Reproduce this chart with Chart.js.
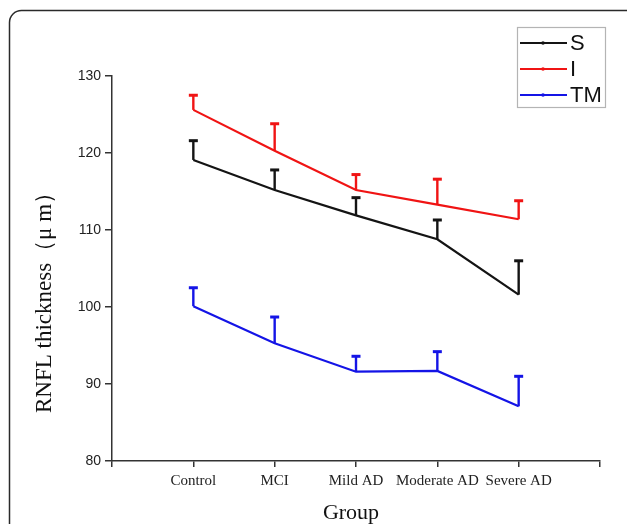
<!DOCTYPE html>
<html>
<head>
<meta charset="utf-8">
<script src="https://cdn.jsdelivr.net/npm/chart.js@4.4.0/dist/chart.umd.min.js"></script>
<style>
  html, body { margin: 0; padding: 0; background: #fff; }
  canvas { display: block; }
</style>
</head>
<body>
<canvas id="chart" width="627" height="524"></canvas>
<script>
// data
const groups = ['Control', 'MCI', 'Mild AD', 'Moderate AD', 'Severe AD'];
const sMean = [119.1, 115.2, 111.9, 108.8, 101.6];
const sSD = [2.5, 2.6, 2.3, 2.5, 4.4];
const iMean = [125.6, 120.3, 115.2, 113.3, 111.4];
const iSD = [1.9, 3.5, 2.0, 3.3, 2.4];
const tmMean = [100.1, 95.3, 91.6, 91.7, 87.1];
const tmSD = [2.4, 3.4, 2.0, 2.5, 3.9];
const yTicks = [80, 90, 100, 110, 120, 130];

const seriesNames = ['S', 'I', 'TM'];
const seriesColors = ['#141414', '#f01414', '#1414e6'];

function toPoints(arr) {
  return arr.map((v, i) => ({ x: i + 1, y: v }));
}

// frame, error bars, legend and axis titles
const extras = {
  id: 'extras',
  beforeDraw(chart) {
    const ctx = chart.ctx;
    ctx.save();
    ctx.fillStyle = '#fff';
    ctx.fillRect(0, 0, chart.width, chart.height);
    // rounded frame around the figure
    ctx.strokeStyle = '#2a2a2a';
    ctx.lineWidth = 1.5;
    const x0 = 9.5, y0 = 10.5, r = 12;
    ctx.beginPath();
    ctx.moveTo(x0, chart.height + 5);
    ctx.lineTo(x0, y0 + r);
    ctx.arcTo(x0, y0, x0 + r, y0, r);
    ctx.lineTo(chart.width + 5, y0);
    ctx.stroke();
    ctx.restore();
  },
  afterDatasetsDraw(chart) {
    const ctx = chart.ctx;
    const xs = chart.scales.x, ys = chart.scales.y;
    ctx.save();
    chart.data.datasets.forEach(ds => {
      ctx.strokeStyle = ds.borderColor;
      ds.data.forEach((p, i) => {
        const px = xs.getPixelForValue(p.x);
        const py = ys.getPixelForValue(p.y);
        const top = ys.getPixelForValue(p.y + ds.sd[i]);
        ctx.lineWidth = 2.4;
        ctx.beginPath();
        ctx.moveTo(px, py);
        ctx.lineTo(px, top);
        ctx.stroke();
        ctx.lineWidth = 3;
        ctx.beginPath();
        ctx.moveTo(px - 4.5, top);
        ctx.lineTo(px + 4.5, top);
        ctx.stroke();
      });
    });
    ctx.restore();
  },
  afterDraw(chart) {
    const ctx = chart.ctx;
    ctx.save();
    // legend
    ctx.strokeStyle = '#b4b4b4';
    ctx.lineWidth = 1.2;
    ctx.strokeRect(517.5, 27.5, 88, 80);
    const rows = [43, 69, 95];
    chart.data.datasets.forEach((ds, k) => {
      const y = rows[k];
      ctx.strokeStyle = ds.borderColor;
      ctx.lineWidth = 2;
      ctx.beginPath();
      ctx.moveTo(520, y);
      ctx.lineTo(567, y);
      ctx.stroke();
      ctx.fillStyle = ds.borderColor;
      ctx.beginPath();
      ctx.arc(543, y, 1.8, 0, Math.PI * 2);
      ctx.fill();
      ctx.fillStyle = '#111';
      ctx.font = '22px "Liberation Sans", Arial, sans-serif';
      ctx.textAlign = 'left';
      ctx.textBaseline = 'middle';
      ctx.fillText(ds.label, 570, y + 1);
    });
    // axis titles
    ctx.fillStyle = '#111';
    ctx.textAlign = 'center';
    ctx.textBaseline = 'middle';
    ctx.font = '22px "Liberation Serif", "Times New Roman", serif';
    ctx.fillText('Group', 351, 513);
    ctx.translate(45, 297);
    ctx.rotate(-Math.PI / 2);
    ctx.font = '23px "Liberation Serif", "Times New Roman", serif';
    ctx.fillText('RNFL thickness（μ m）', 0, 0);
    ctx.restore();
  }
};

const datasets = [
  { label: seriesNames[0], data: toPoints(sMean), sd: sSD, borderColor: seriesColors[0] },
  { label: seriesNames[1], data: toPoints(iMean), sd: iSD, borderColor: seriesColors[1] },
  { label: seriesNames[2], data: toPoints(tmMean), sd: tmSD, borderColor: seriesColors[2] }
].map(ds => ({ ...ds, borderWidth: 2.2, pointRadius: 0, tension: 0, fill: false }));

new Chart(document.getElementById('chart'), {
  type: 'line',
  data: { datasets: datasets },
  plugins: [extras],
  options: {
    responsive: false,
    animation: false,
    devicePixelRatio: 1,
    layout: { padding: { left: 0, right: 27, top: 76, bottom: 0 } },
    plugins: {
      legend: { display: false },
      tooltip: { enabled: false }
    },
    scales: {
      x: {
        type: 'linear',
        min: 0,
        max: 6,
        afterFit(scale) { scale.height = 63; },
        border: { display: true, color: '#333', width: 1.5 },
        grid: { display: true, drawOnChartArea: false, drawTicks: true, tickLength: 6, color: '#333', lineWidth: 1.5 },
        ticks: {
          stepSize: 1,
          autoSkip: false,
          maxRotation: 0,
          padding: 5,
          color: '#222',
          font: { family: '"Liberation Serif", "Times New Roman", serif', size: 15 },
          callback: v => groups[v - 1] || ''
        }
      },
      y: {
        min: 80,
        max: 130,
        afterFit(scale) { scale.width = 112; },
        afterBuildTicks(scale) { scale.ticks = yTicks.map(v => ({ value: v })); },
        border: { display: true, color: '#333', width: 1.5 },
        grid: { display: true, drawOnChartArea: false, drawTicks: true, tickLength: 7, color: '#333', lineWidth: 1.5 },
        ticks: {
          padding: 4,
          color: '#222',
          font: { family: '"Liberation Sans", Arial, sans-serif', size: 14 }
        }
      }
    }
  }
});
</script>
</body>
</html>
